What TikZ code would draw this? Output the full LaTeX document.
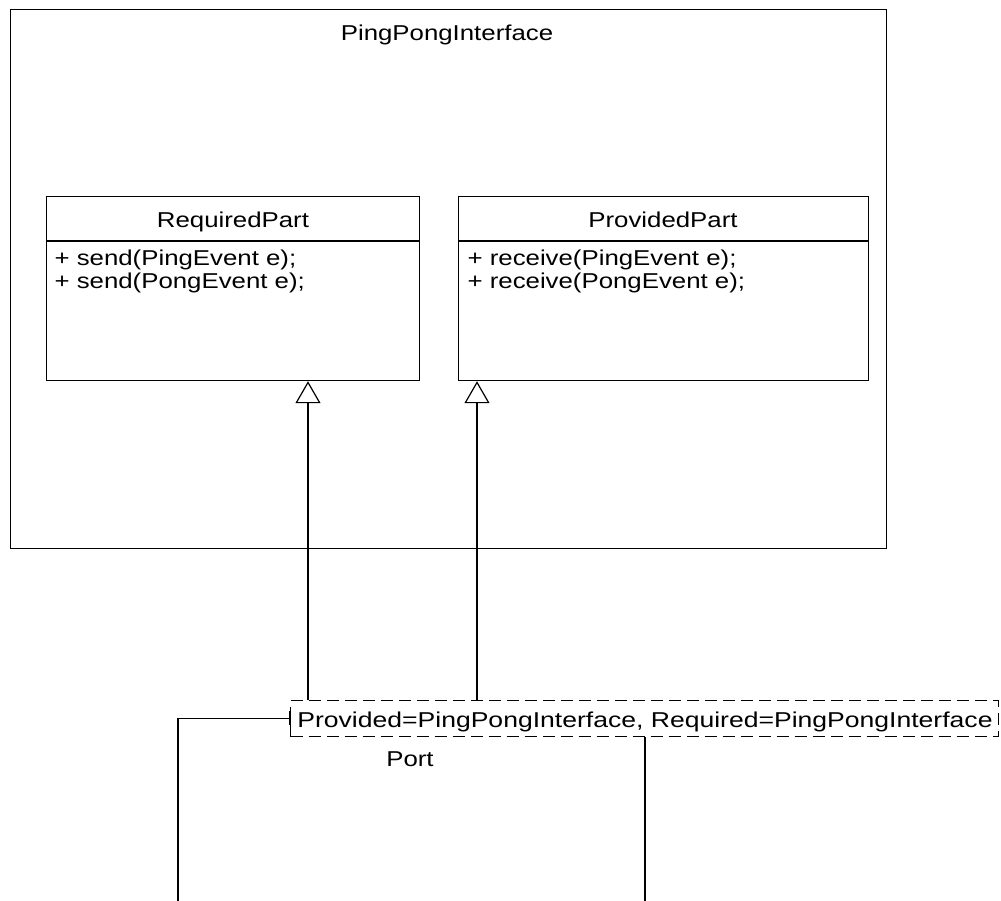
\documentclass[tikz,border=0pt]{standalone}
\usepackage{fontspec}
\setmainfont{Liberation Sans}[FakeStretch=1.2]
\newfontfamily\portfont{Liberation Sans}[FakeStretch=1.235]
\usetikzlibrary{arrows.meta}
\begin{document}
\begin{tikzpicture}[x=1pt,y=-1pt,
  line width=1.2pt,
  every node/.style={font=\fontsize{21.5}{22}\selectfont, inner sep=0pt},
  box/.style={draw, anchor=north west},
  lbl/.style={anchor=base},
  meth/.style={anchor=base west},
  gen/.style={-{Triangle[open,width=25pt,length=22pt]}},
  portbox/.style={draw, dash pattern=on 12pt off 6pt, anchor=north west}]
\useasboundingbox (0,0) rectangle (1001,901);
% outer
\node[box, minimum width=876pt, minimum height=539pt] (outer) at (10,9) {};
\node[lbl] (title) at (447,41) {PingPongInterface};
% required
\node[box, minimum width=373pt, minimum height=184pt] (req) at (46,196) {};
\draw (46,241) coordinate (reqsl) -- (419,241) coordinate (reqsr);
\node[lbl] (reqname) at (233,228) {RequiredPart};
\node[meth] (reqm1) at (54,266) {+ send(PingEvent e);};
\node[meth] (reqm2) at (54,288) {+ send(PongEvent e);};
% provided
\node[box, minimum width=410pt, minimum height=184pt] (prov) at (458,196) {};
\draw (458,241) coordinate (provsl) -- (868,241) coordinate (provsr);
\node[lbl] (provname) at (663,228) {ProvidedPart};
\node[meth] (provm1) at (467,266) {+ receive(PingEvent e);};
\node[meth] (provm2) at (467,288) {+ receive(PongEvent e);};
% port
\node[portbox, minimum width=708pt, minimum height=36pt] (port) at (290,700) {};
\node[lbl, font=\portfont\fontsize{21.5}{22}\selectfont] (porttext) at (645,727) {Provided=PingPongInterface, Required=PingPongInterface};
\node[lbl] (portlbl) at (410,766) {Port};
% generalizations
\coordinate (g1) at (308,700);
\coordinate (g2) at (477,700);
\draw[gen] (g1) -- (g1 |- req.south);
\draw[gen] (g2) -- (g2 |- prov.south);
% solid segment on port left edge
\draw (290,711) -- (290,725);
% wires
\coordinate (w1) at (178,901);
\coordinate (w2) at (645,901);
\draw (port.west) -- (port.west -| w1) -- (w1);
\draw (w2 |- port.south) -- (w2);
\end{tikzpicture}
\end{document}
